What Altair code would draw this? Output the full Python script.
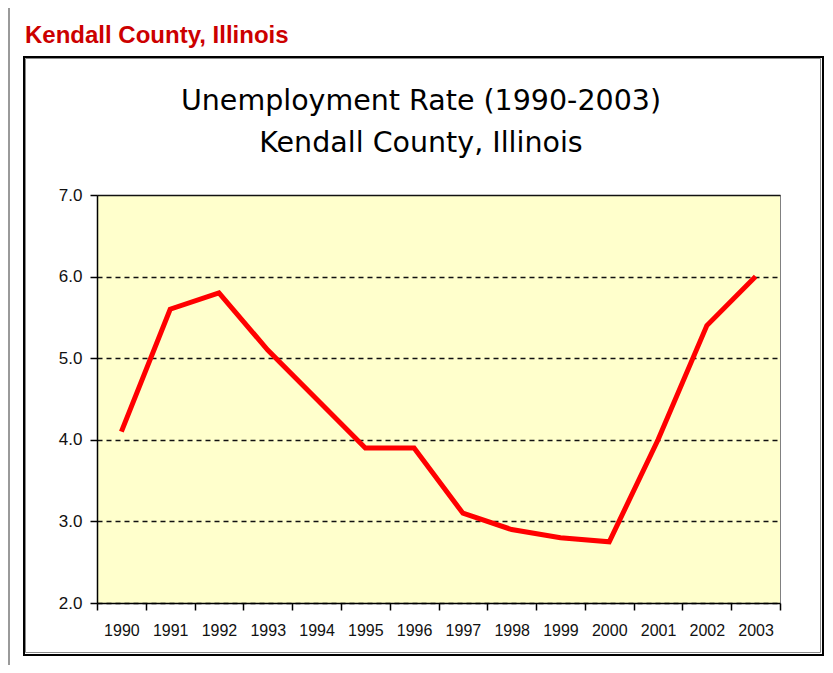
import altair as alt
import pandas as pd

# ---- data ----
years = [1990, 1991, 1992, 1993, 1994, 1995, 1996, 1997, 1998, 1999, 2000, 2001, 2002, 2003]
rates = [4.1, 5.6, 5.8, 5.1, 4.5, 3.9, 3.9, 3.1, 2.9, 2.8, 2.75, 4.0, 5.4, 6.0]
y_ticks = [2.0, 3.0, 4.0, 5.0, 6.0, 7.0]
header_text = "Kendall County, Illinois"
title_lines = ["Unemployment Rate (1990-2003)", "Kendall County, Illinois"]

x_bounds = [y - 0.5 for y in years] + [years[-1] + 0.5]
x_axis_values = sorted(years + x_bounds)

df = pd.DataFrame({"year": years, "rate": rates})

W, H = 683, 408
LABEL_FONT = "Liberation Sans"

x_enc = alt.X(
    "year:Q",
    scale=alt.Scale(domain=[x_bounds[0], x_bounds[-1]], nice=False, zero=False),
    axis=alt.Axis(
        values=x_axis_values,
        labelExpr="datum.value % 1 == 0 ? format(datum.value, 'd') : ''",
        tickOpacity=alt.condition("datum.value % 1 != 0", alt.value(1), alt.value(0)),
        tickSize=7,
        tickWidth=1.5,
        tickColor="black",
        domainColor="black",
        domainWidth=1.5,
        labelFont=LABEL_FONT,
        labelFontSize=16,
        labelColor="#111111",
        labelPadding=12,
        labelOverlap=False,
        labelFlush=False,
        grid=False,
        title=None,
    ),
)

y_enc = alt.Y(
    "rate:Q",
    scale=alt.Scale(domain=[y_ticks[0], y_ticks[-1]], nice=False, zero=False),
    axis=alt.Axis(
        values=y_ticks,
        format=".1f",
        tickSize=7,
        tickWidth=1.5,
        tickColor="black",
        domainColor="black",
        domainWidth=1.5,
        labelFont=LABEL_FONT,
        labelFontSize=17,
        labelColor="#111111",
        labelPadding=8,
        grid=True,
        gridColor="#111111",
        gridWidth=1.5,
        gridDash=alt.condition("datum.value >= 7", alt.value([1, 0]), alt.value([5, 4])),
        title=None,
    ),
)

line = alt.Chart(df).mark_line(
    color="#ff0000", strokeWidth=5, strokeJoin="miter", strokeCap="butt"
).encode(x=x_enc, y=y_enc)

one = alt.Data(values=[{}])

frame_left = alt.Chart(one).mark_rect(color="#9a9a9a").encode(
    x=alt.value(-89), x2=alt.value(-87), y=alt.value(-187), y2=alt.value(470)
)

box = alt.Chart(one).mark_rect(fill="transparent", stroke="black", strokeWidth=2).encode(
    x=alt.value(-73), x2=alt.value(726), y=alt.value(-138), y2=alt.value(460)
)
box_inner = alt.Chart(one).mark_rect(fill="transparent", stroke="#8a8a8a", strokeWidth=1).encode(
    x=alt.value(-71.5), x2=alt.value(723.5), y=alt.value(-136.5), y2=alt.value(457.5)
)

header = alt.Chart(alt.Data(values=[{"t": header_text}])).mark_text(
    align="left", baseline="alphabetic", font=LABEL_FONT, fontSize=24,
    fontWeight="bold", color="#cc0000"
).encode(x=alt.value(-72), y=alt.value(-152), text="t:N")

title1 = alt.Chart(alt.Data(values=[{"t": title_lines[0]}])).mark_text(
    align="center", baseline="alphabetic", font="DejaVu Sans", fontSize=28.5, color="black"
).encode(x=alt.value(324), y=alt.value(-85), text="t:N")

title2 = alt.Chart(alt.Data(values=[{"t": title_lines[1]}])).mark_text(
    align="center", baseline="alphabetic", font="DejaVu Sans", fontSize=28.5, color="black"
).encode(x=alt.value(324), y=alt.value(-43), text="t:N")

chart = (
    alt.layer(frame_left, box, box_inner, header, title1, title2, line)
    .properties(
        width=W,
        height=H,
        autosize=alt.AutoSizeParams(type="none"),
        padding={"left": 89, "top": 187, "right": 45, "bottom": 62},
        background="white",
    )
    .configure_view(stroke="#808080", strokeWidth=1, fill="#ffffcc")
)

chart.save("out.html", embed_options={"renderer": "svg", "actions": False})
